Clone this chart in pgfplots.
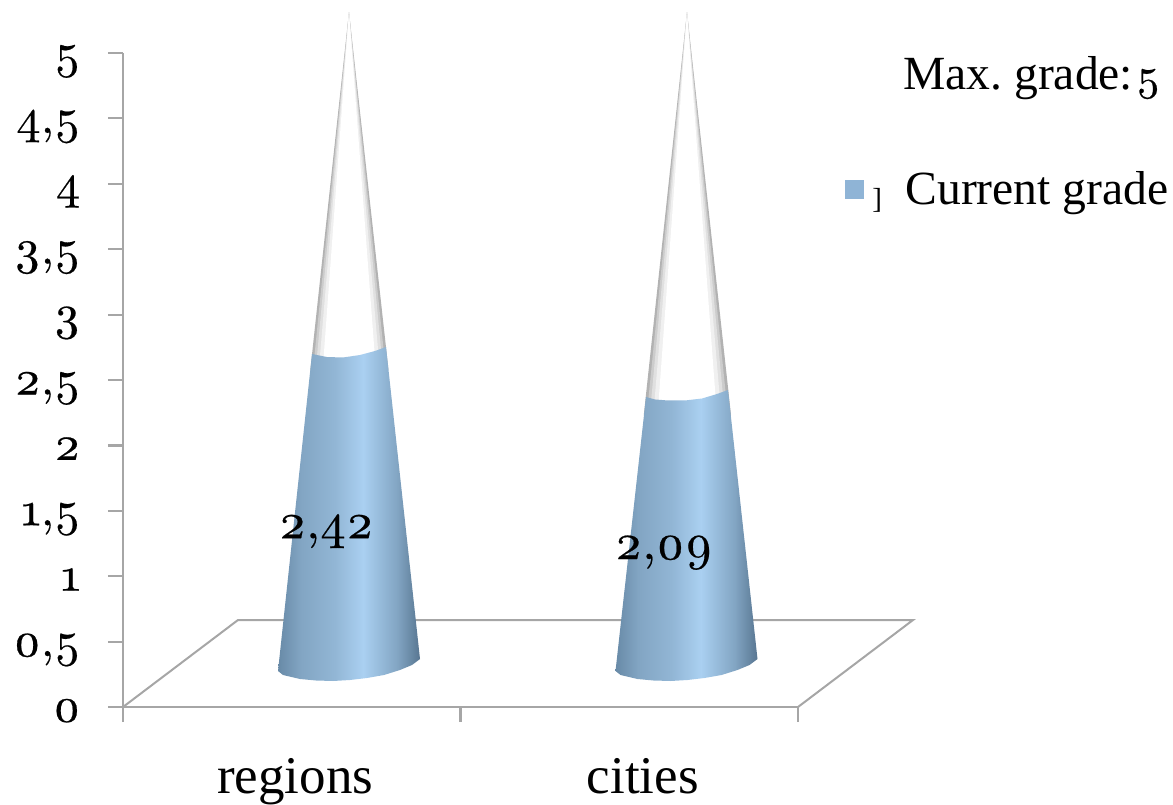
\documentclass[border=0pt]{standalone}
\usepackage{fontspec}
\setmainfont{Liberation Serif}
\newfontfamily\osf{lmroman10-regular}[Extension=.otf,Numbers=OldStyle,FakeBold=0.4]
\usepackage{pgfplots}
\pgfplotsset{compat=1.18}
\definecolor{axisgray}{RGB}{166,166,166}
\definecolor{legblue}{RGB}{143,180,214}
\definecolor{ba}{RGB}{104,138,167}
\definecolor{bb}{RGB}{130,165,195}
\definecolor{bc}{RGB}{146,182,213}
\definecolor{bd}{RGB}{170,208,241}
\definecolor{be}{RGB}{130,165,195}
\definecolor{bf}{RGB}{88,118,145}
\pgfdeclarehorizontalshading{coneblue}{100bp}{
  color(0bp)=(ba);
  color(25bp)=(ba);
  color(33bp)=(bb);
  color(45bp)=(bc);
  color(55bp)=(bd);
  color(67bp)=(be);
  color(75bp)=(bf);
  color(100bp)=(bf)}
\begin{document}
\begin{tikzpicture}
\useasboundingbox (-123pt,-97pt) rectangle (1050pt,707pt);
\begin{axis}[
    scale only axis,
    width=675pt,
    height=654pt,
    xmin=0, xmax=2,
    ymin=0, ymax=5,
    clip=false,
    axis x line*=bottom,
    axis y line*=left,
    axis line style={draw=axisgray,line width=2.2pt,-},
    every outer x axis line/.append style={line width=2.2pt},
    every outer y axis line/.append style={line width=2.2pt},
    tick align=outside,
    major tick length=15pt,
    every tick/.style={draw=axisgray,line width=2.2pt},
    xtick={0,1,2},
    xticklabels={},
    extra x ticks={0.51,1.54},
    extra x tick labels={regions,cities},
    extra x tick style={major tick length=0pt,
      tick label style={font=\fontsize{53}{55}\selectfont,anchor=base,yshift=-86pt}},
    ytick={0,0.5,1,1.5,2,2.5,3,3.5,4,4.5,5},
    yticklabels={0,{0,5},1,{1,5},2,{2,5},3,{3,5},4,{4,5},5},
    y tick label style={font=\osf\fontsize{48}{50}\selectfont,anchor=base east,xshift=-24pt,yshift=-14.5pt},
    legend style={at={(axis cs:2.14,3.96)},anchor=west,draw=none,fill=none,
      font=\fontsize{47.6}{50}\selectfont,inner sep=0pt},
    legend image code/.code={\path[draw=none,fill=legblue] (0pt,-9.5pt) rectangle (19pt,9.5pt);\path[draw=none] (0pt,0pt) -- (58pt,0pt);},
]
% floor
\addplot[axisgray,line width=2pt,no marks,forget plot] coordinates {
  (0,0) (0.3407,0.665) (2.3407,0.665) (2,0)};
% upper cones, nested so that the grey edge runs up to the tip
\addplot[draw=none,fill=black!30,forget plot] coordinates {(0.6696,5.313) (0.7867,2.5765) (0.5550,2.5765)} --cycle;
\addplot[draw=none,fill=black!20,forget plot] coordinates {(0.6696,5.313) (0.7783,2.5765) (0.5630,2.5765)} --cycle;
\addplot[draw=none,fill=black!12,forget plot] coordinates {(0.6696,5.313) (0.7704,2.5765) (0.5710,2.5765)} --cycle;
\addplot[draw=none,fill=black!6,forget plot] coordinates {(0.6696,5.313) (0.7609,2.5765) (0.5801,2.5765)} --cycle;
\addplot[draw=none,fill=white,forget plot] coordinates {(0.6696,5.313) (0.7493,2.5765) (0.5917,2.5765)} --cycle;
\addplot[draw=none,fill=black!30,forget plot] coordinates {(1.6711,5.313) (1.8015,2.2324) (1.5431,2.2324)} --cycle;
\addplot[draw=none,fill=black!20,forget plot] coordinates {(1.6711,5.313) (1.7923,2.2324) (1.5520,2.2324)} --cycle;
\addplot[draw=none,fill=black!12,forget plot] coordinates {(1.6711,5.313) (1.7831,2.2324) (1.5609,2.2324)} --cycle;
\addplot[draw=none,fill=black!6,forget plot] coordinates {(1.6711,5.313) (1.7727,2.2324) (1.5713,2.2324)} --cycle;
\addplot[draw=none,fill=white,forget plot] coordinates {(1.6711,5.313) (1.7597,2.2324) (1.5840,2.2324)} --cycle;
% lower cones, the current grade
\addplot[draw=none,shading=coneblue,forget plot] coordinates {
  (0.5600,2.6988) (0.6044,2.6758) (0.6519,2.6720) (0.7022,2.6911) (0.7467,2.7217) (0.7793,2.7523)
  (0.8800,0.3670) (0.8563,0.3211) (0.8207,0.2829) (0.7733,0.2446) (0.7230,0.2217) (0.6726,0.2064)
  (0.6222,0.1988) (0.5719,0.2026) (0.5244,0.2141) (0.4741,0.2446) (0.4593,0.2752)} --cycle;
\addplot[draw=none,shading=coneblue,forget plot] coordinates {
  (1.5496,2.37) (1.5763,2.3511) (1.6148,2.3434) (1.6652,2.3434) (1.7156,2.3585) (1.76,2.393) (1.7926,2.4235)
  (1.8800,0.3670) (1.8563,0.3211) (1.8207,0.2829) (1.7733,0.2446) (1.7230,0.2217) (1.6726,0.2064)
  (1.6222,0.1988) (1.5719,0.2026) (1.5244,0.2141) (1.4741,0.2446) (1.4593,0.2752)} --cycle;
\addlegendimage{legblue}
\addlegendentry{Current grade}
% value labels
\node[font=\osf\fontsize{50}{52}\selectfont] at (axis cs:0.6015,1.345) {2,42};
\node[font=\osf\fontsize{50}{52}\selectfont] at (axis cs:1.602,1.18) {2,09};
\node[anchor=base west,inner sep=0pt,font=\fontsize{47.6}{50}\selectfont] at (axis cs:2.3111,4.72) {Max.\ grade:\hspace{3pt}{\osf\fontsize{44}{46}\selectfont 5}};
\node[anchor=west,inner sep=0pt,font=\fontsize{29}{31}\selectfont] at (axis cs:2.22,3.87) {]};
\end{axis}
\end{tikzpicture}
\end{document}
